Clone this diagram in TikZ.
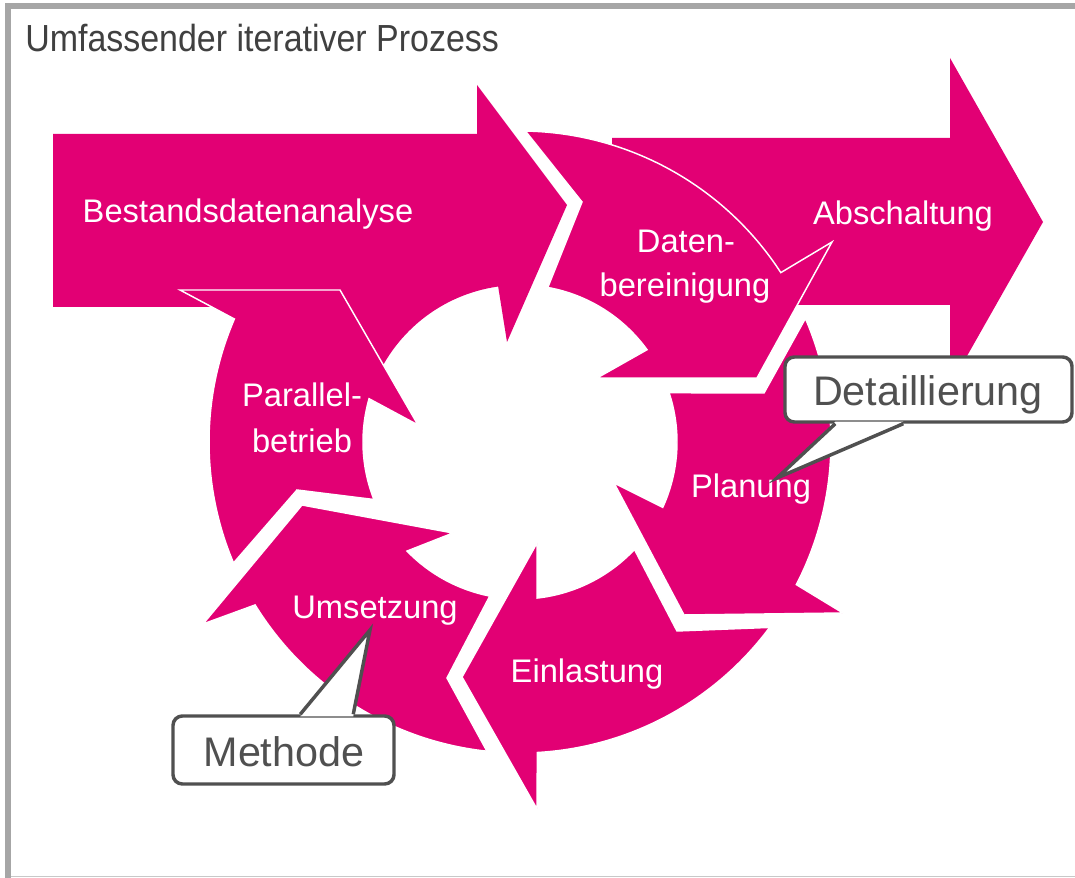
\documentclass[tikz,border=0pt]{standalone}
\usepackage{fontspec}
\setmainfont{Liberation Sans}
\newfontfamily\titlefont[FakeStretch=0.9]{Liberation Sans}
\usetikzlibrary{calc}
\definecolor{tmagenta}{HTML}{E20074}
\definecolor{titlegray}{HTML}{404040}
\definecolor{notegray}{HTML}{505050}
\definecolor{framegray}{HTML}{A6A6A6}
\definecolor{rulegray}{HTML}{C8C8C8}

\begin{document}
\begin{tikzpicture}[x=0.75pt,y=0.75pt,
  seg/.style={fill=tmagenta, draw=white, line width=1.1pt, line join=miter},
  lbl/.style={text=white, anchor=base, inner sep=0pt, font=\fontsize{24.5}{29}\selectfont},
  notebox/.style={draw=notegray, fill=white, line width=2.6pt, rounded corners=7pt, inner sep=0pt},
  notetext/.style={text=notegray, anchor=base, inner sep=0pt, font=\fontsize{31}{37}\selectfont},
  pointer/.style={draw=notegray, line width=2.6pt, line join=miter}]

\useasboundingbox (0,0) rectangle (1075,878);

% frame
\fill[framegray] (5,869) rectangle (1075,875);
\fill[framegray] (5,0) rectangle (11,875);
\fill[rulegray] (11,0.5) rectangle (1075,2);

% title
\node[anchor=base west, inner sep=0pt, text=titlegray,
      font=\titlefont\fontsize{28.3}{34}\selectfont] (title) at (25,826)
      {Umfassender iterativer Prozess};

% centre of the cycle
\coordinate (C) at (520,436);

% Bestandsdatenanalyse: straight arrow running into the top of the cycle
\fill[tmagenta] (53,744) -- (477,744) -- (477,793) -- (567,673) -- (507,536)
  -- ($(C)+(98:157)$) arc[start angle=98, end angle=160, radius=157]
  -- (240,560) -- (215,571) -- (53,571) -- cycle;

% Abschaltung: straight arrow leaving to the right
\fill[tmagenta] (612,740) -- (950,740) -- (950,820) -- (1043,656) -- (950,492)
  -- (950,573) -- (612,573) -- cycle;

% Datenbereinigung
\path[seg] ($(C)+(89:311)$) arc[start angle=89, end angle=33, radius=311]
  -- (832,636) -- (757,500) -- (597,500)
  -- ($(C)+(36:157)$) arc[start angle=36, end angle=79.8, radius=157]
  -- (582,676) -- cycle;

% Planung
\path[seg] ($(C)+(23.4:311)$) arc[start angle=23.4, end angle=-27.3, radius=311]
  -- (843,265) -- (684,263) -- (614,395)
  -- ($(C)+(-24.6:157)$) arc[start angle=-24.6, end angle=18.3, radius=157]
  -- (764,485) -- cycle;

% Einlastung
\path[seg] ($(C)+(-36.6:311)$) arc[start angle=-36.6, end angle=-86.8, radius=311]
  -- (537,69) -- (462,201) -- (537,335)
  -- ($(C)+(-83.7:157)$) arc[start angle=-83.7, end angle=-43.2, radius=157]
  -- (677,247) -- cycle;

% Umsetzung
\path[seg] ($(C)+(263.9:311)$) arc[start angle=263.9, end angle=211.6, radius=311]
  -- (203,254) -- (302,373) -- (453,345)
  -- ($(C)+(224:157)$) arc[start angle=224, end angle=258.9, radius=157]
  -- (447,200) -- cycle;

% Parallelbetrieb
\path[seg] ($(C)+(202.9:311)$) arc[start angle=202.9, end angle=156.7, radius=311]
  -- (180,588) -- (340,588) -- (418,453)
  -- ($(C)+(164:157)$) arc[start angle=164, end angle=201.5, radius=157]
  -- (297,388) -- cycle;

% labels
\node[lbl] (bestand) at (248,655) {Bestandsdatenanalyse};
\node[lbl] (abschalt) at (903,653) {Abschaltung};
\node[lbl] (daten1) at (686,625) {Daten-};
\node[lbl] (daten2) at (685,581) {bereinigung};
\node[lbl] (planung) at (751,380) {Planung};
\node[lbl] (einlast) at (587,195) {Einlastung};
\node[lbl] (umsetz) at (375,259) {Umsetzung};
\node[lbl] (para1) at (302,471) {Parallel-};
\node[lbl] (para2) at (302,425) {betrieb};

% callout: Detaillierung
\node[notebox, minimum width=215.25pt, minimum height=48.75pt] (detbox) at (928.5,488.5) {};
\coordinate (dettip) at (777,400);
\fill[white] ($(detbox.south west)+(52,2)$) -- (dettip) -- ($(detbox.south west)+(120,2)$) -- cycle;
\draw[pointer] ($(detbox.south west)+(52,0)$) -- (dettip) -- ($(detbox.south west)+(120,0)$);
\node[notetext] (det) at (928,472) {Detaillierung};

% callout: Methode
\node[notebox, minimum width=165.75pt, minimum height=51pt] (methbox) at (283.5,128) {};
\coordinate (methtip) at (370,248);
\fill[white] ($(methbox.north west)+(129,-2)$) -- (methtip) -- ($(methbox.north west)+(182,-2)$) -- cycle;
\draw[pointer] ($(methbox.north west)+(129,0)$) -- (methtip) -- ($(methbox.north west)+(182,0)$);
\node[notetext] (meth) at (284,111) {Methode};

\end{tikzpicture}
\end{document}
